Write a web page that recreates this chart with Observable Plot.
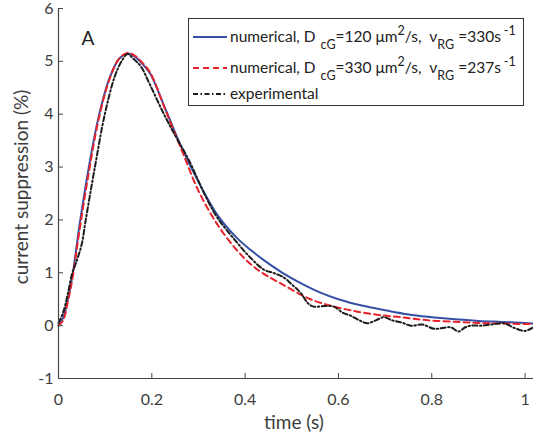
<!DOCTYPE html>
<html>
<head>
<meta charset="utf-8">
<script src="https://cdn.jsdelivr.net/npm/d3@7"></script>
<script src="https://cdn.jsdelivr.net/npm/@observablehq/plot@0.6"></script>
<style>
  html, body { margin: 0; padding: 0; background: #fff; }
  #chart { width: 533px; height: 439px; overflow: hidden; }
</style>
</head>
<body>
<div id="chart"></div>
<script>
// ---- data ----
const numerical1T = [0, 0.01, 0.02, 0.03, 0.045, 0.065, 0.086, 0.11, 0.13, 0.148, 0.165, 0.18, 0.197, 0.23, 0.265, 0.30, 0.34, 0.38, 0.412, 0.44, 0.48, 0.52, 0.56, 0.60, 0.65, 0.70, 0.75, 0.80, 0.85, 0.90, 0.95, 1.0, 1.02];
const numerical1Y = [0, 0.15, 0.5, 0.95, 1.9, 3.0, 3.95, 4.7, 5.05, 5.15, 5.08, 4.95, 4.76, 4.08, 3.35, 2.72, 2.1, 1.68, 1.43, 1.24, 1.0, 0.8, 0.63, 0.5, 0.38, 0.29, 0.21, 0.16, 0.12, 0.09, 0.07, 0.05, 0.04];

const numerical2T = [0, 0.01, 0.02, 0.03, 0.045, 0.065, 0.086, 0.11, 0.13, 0.148, 0.165, 0.18, 0.197, 0.23, 0.265, 0.30, 0.34, 0.38, 0.412, 0.44, 0.48, 0.54, 0.60, 0.65, 0.697, 0.733, 0.77, 0.81, 0.86, 0.90, 0.95, 1.0, 1.02];
const numerical2Y = [0, 0.1, 0.45, 0.9, 1.8, 2.9, 3.9, 4.68, 5.05, 5.16, 5.1, 4.97, 4.78, 4.06, 3.3, 2.55, 1.92, 1.45, 1.16, 0.98, 0.78, 0.5, 0.34, 0.25, 0.19, 0.16, 0.12, 0.09, 0.07, 0.05, 0.04, 0.03, 0.03];

const experimentalT = [0, 0.01, 0.02, 0.029, 0.04, 0.05, 0.058, 0.078, 0.099, 0.12, 0.135, 0.148, 0.16, 0.176, 0.197, 0.226, 0.25, 0.28, 0.315, 0.34, 0.38, 0.412, 0.44, 0.46, 0.483, 0.50, 0.519, 0.535, 0.547, 0.57, 0.59, 0.61, 0.626, 0.645, 0.662, 0.68, 0.697, 0.715, 0.735, 0.755, 0.78, 0.805, 0.82, 0.84, 0.858, 0.87, 0.883, 0.905, 0.926, 0.955, 0.976, 1.0, 1.018];
const experimentalY = [0.05, 0.25, 0.6, 0.98, 1.25, 1.55, 1.98, 3.0, 3.99, 4.7, 5.0, 5.14, 5.05, 4.91, 4.54, 4.0, 3.6, 3.12, 2.45, 2.05, 1.6, 1.28, 1.06, 1.0, 0.91, 0.78, 0.62, 0.42, 0.36, 0.37, 0.36, 0.24, 0.19, 0.1, 0.045, 0.1, 0.16, 0.1, 0.06, 0.0, 0.02, -0.06, -0.05, -0.03, -0.11, -0.04, 0.0, 0.0, 0.02, 0.045, -0.04, -0.1, -0.03];

const xTicks = [0, 0.2, 0.4, 0.6, 0.8, 1];
const xTickLabels = ["0", "0.2", "0.4", "0.6", "0.8", "1"];
const yTicks = [-1, 0, 1, 2, 3, 4, 5, 6];
const yTickLabels = ["-1", "0", "1", "2", "3", "4", "5", "6"];

const seriesNames = ["numerical1", "numerical2", "experimental"];
const seriesColors = ["#3550a5", "#e8232b", "#1c1c1c"];

const toRows = (ts, ys, s) => ts.map((t, i) => ({t, y: ys[i], s}));
const rows1 = toRows(numerical1T, numerical1Y, seriesNames[0]);
const rows2 = toRows(numerical2T, numerical2Y, seriesNames[1]);
const rows3 = toRows(experimentalT, experimentalY, seriesNames[2]);

const FONT = "Lato, 'Open Sans', sans-serif";
const textColor = "#3d3d3d";
const axisColor = "#454545";
const dashDot = "5,2.5,1.5,2.5";

const plot = Plot.plot({
  width: 533,
  height: 439,
  marginLeft: 58,
  marginRight: 0,
  marginTop: 8,
  marginBottom: 61,
  style: {fontFamily: FONT, fontSize: "16px", color: textColor, background: "white", overflow: "hidden"},
  x: {domain: [0, 1.018], label: null},
  y: {domain: [-1, 6], label: null},
  marks: [
    Plot.line(rows1, {x: "t", y: "y", stroke: seriesColors[0], strokeWidth: 2, curve: "catmull-rom"}),
    Plot.line(rows2, {x: "t", y: "y", stroke: seriesColors[1], strokeWidth: 2, strokeDasharray: "6,4", curve: "catmull-rom"}),
    Plot.line(rows3, {x: "t", y: "y", stroke: seriesColors[2], strokeWidth: 2, strokeDasharray: dashDot, curve: "catmull-rom"}),
    Plot.ruleY([-1], {stroke: axisColor, strokeWidth: 1.2}),
    Plot.ruleX([0], {stroke: axisColor, strokeWidth: 1.2}),
    Plot.axisX({ticks: xTicks, tickFormat: (d) => xTickLabels[xTicks.indexOf(d)], tickSize: -5, tickPadding: 20, stroke: axisColor, fill: textColor, fontSize: 16, label: null}),
    Plot.axisY({ticks: yTicks, tickFormat: (d) => yTickLabels[yTicks.indexOf(d)], tickSize: -5, tickPadding: 10, stroke: axisColor, fill: textColor, fontSize: 16, label: null})
  ]
});

document.getElementById("chart").appendChild(plot);

// ---- annotations: axis titles, panel label, legend ----
const svg = d3.select(plot);
const g = svg.append("g").attr("font-family", FONT).attr("fill", textColor);

g.append("text").attr("x", 294).attr("y", 429).attr("text-anchor", "middle")
  .attr("font-size", 19).text("time (s)");
g.append("text").attr("transform", "translate(28,187) rotate(-90)").attr("text-anchor", "middle")
  .attr("font-size", 19).text("current suppression (%)");
g.append("text").attr("x", 88).attr("y", 45).attr("text-anchor", "middle")
  .attr("font-size", 19).attr("fill", "#222").text("A");

const lg = svg.append("g").attr("font-family", FONT).attr("text-anchor", "start");
lg.append("rect").attr("x", 188.5).attr("y", 18.5).attr("width", 335).attr("height", 87)
  .attr("fill", "white").attr("stroke", "#333").attr("stroke-width", 1);

const legendEntries = [
  {y: 37, dash: null, d: "120", v: "330"},
  {y: 68, dash: "6,4", d: "330", v: "237"},
  {y: 94, dash: dashDot, label: "experimental"}
];
legendEntries.forEach((e, i) => {
  lg.append("line").attr("x1", 193).attr("x2", 227).attr("y1", e.y).attr("y2", e.y)
    .attr("stroke", seriesColors[i]).attr("stroke-width", 2)
    .attr("stroke-dasharray", e.dash);
  const t = lg.append("text").attr("x", 230).attr("y", e.y + 5).attr("font-size", 15.5).attr("fill", "#222");
  if (e.label) { t.text(e.label); return; }
  t.append("tspan").text("numerical, D ");
  t.append("tspan").attr("dx", 1).attr("dy", 7).attr("font-size", 12.5).text("cG");
  t.append("tspan").attr("dy", -7).text("=" + e.d + " μm");
  t.append("tspan").attr("dy", -7).attr("font-size", 12.5).text("2");
  t.append("tspan").attr("dy", 7).text("/s,  ν");
  t.append("tspan").attr("dy", 7).attr("font-size", 12.5).text("RG");
  t.append("tspan").attr("dy", -7).text(" =" + e.v + "s");
  t.append("tspan").attr("dy", -7).attr("dx", 3).attr("font-size", 12.5).text("-1");
});
</script>
</body>
</html>
